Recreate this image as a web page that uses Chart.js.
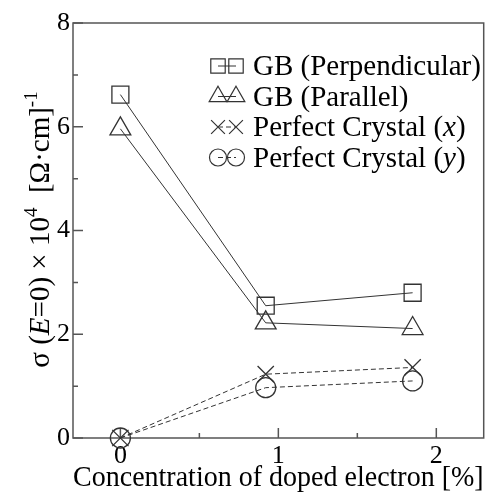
<!DOCTYPE html>
<html>
<head>
<meta charset="utf-8">
<script src="https://cdn.jsdelivr.net/npm/chart.js@4.4.0/dist/chart.umd.min.js"></script>
<style>
  html, body { margin: 0; padding: 0; background: #fff; }
  #wrap { width: 497px; height: 493px; }
</style>
</head>
<body>
<div id="wrap"><canvas id="sigmaChart"></canvas></div>
<script>
// concentration of doped electron [%]
var concentration = [0, 0.92, 1.85];

// sigma(E=0) x 10^4 [Ohm cm]^-1
var gbPerpendicular = [6.62, 2.55, 2.80];
var gbParallel      = [5.96, 2.22, 2.11];
var crystalX        = [0, 1.23, 1.36];
var crystalY        = [0, 0.97, 1.10];

var seriesNames = ['GB (Perpendicular)', 'GB (Parallel)', 'Perfect Crystal (x)', 'Perfect Crystal (y)'];

var xTickValues = [0, 1, 2];
var xMinorTicks = [0.5, 1.5];
var yTickValues = [0, 2, 4, 6, 8];
var yMinorTicks = [1, 3, 5, 7];

var xTitle = 'Concentration of doped electron [%]';

var SERIF = '"Liberation Serif", "Times New Roman", serif';
var INK = '#333';

function points(ys) {
    return concentration.map(function (x, i) { return { x: x, y: ys[i] }; });
}

function series(label, ys, style, radius, dashed) {
    return {
        label: label,
        data: points(ys),
        borderColor: INK,
        borderWidth: 1,
        borderDash: dashed ? [5, 3] : [],
        pointStyle: style,
        pointRadius: radius,
        pointBorderColor: INK,
        pointBackgroundColor: 'rgba(0,0,0,0)',
        pointBorderWidth: 1.3,
        fill: false,
        tension: 0,
        clip: false
    };
}

// frame + inward ticks
var frameTicks = {
    id: 'frameTicks',
    beforeDatasetsDraw: function (chart) {
        var ctx = chart.ctx, a = chart.chartArea;
        var xs = chart.scales.x, ys = chart.scales.y;
        ctx.save();
        ctx.strokeStyle = '#555';
        ctx.lineWidth = 1.5;
        ctx.strokeRect(a.left, a.top, a.right - a.left, a.bottom - a.top);
        ctx.beginPath();
        xTickValues.forEach(function (v) {
            var p = xs.getPixelForValue(v);
            ctx.moveTo(p, a.bottom); ctx.lineTo(p, a.bottom - 10);
        });
        xMinorTicks.forEach(function (v) {
            var p = xs.getPixelForValue(v);
            ctx.moveTo(p, a.bottom); ctx.lineTo(p, a.bottom - 5);
        });
        yTickValues.forEach(function (v) {
            var p = ys.getPixelForValue(v);
            ctx.moveTo(a.left, p); ctx.lineTo(a.left + 10, p);
        });
        yMinorTicks.forEach(function (v) {
            var p = ys.getPixelForValue(v);
            ctx.moveTo(a.left, p); ctx.lineTo(a.left + 5, p);
        });
        ctx.stroke();
        ctx.restore();
    }
};

// legend with marker-line-marker samples
var sampleLegend = {
    id: 'sampleLegend',
    afterDraw: function (chart) {
        var ctx = chart.ctx;
        var x1 = 218, x2 = 236, textX = 253, top = 66, step = 30.5;
        chart.data.datasets.forEach(function (ds, i) {
            var y = top + i * step;
            ctx.save();
            ctx.strokeStyle = INK;
            ctx.lineWidth = 1;
            ctx.setLineDash(ds.borderDash);
            ctx.beginPath();
            ctx.moveTo(x1, y); ctx.lineTo(x2, y);
            ctx.stroke();
            ctx.setLineDash([]);
            ctx.fillStyle = 'rgba(0,0,0,0)';
            ctx.lineWidth = 1.2;
            var opts = { pointStyle: ds.pointStyle, radius: ds.pointRadius * 0.85, rotation: 0, borderWidth: 1.2 };
            Chart.helpers.drawPoint(ctx, opts, x1, y);
            Chart.helpers.drawPoint(ctx, opts, x2, y);

            // text, single letter in parentheses set in italic
            ctx.fillStyle = '#000';
            ctx.textBaseline = 'alphabetic';
            var m = ds.label.match(/^(.*\()(\w)(\))$/);
            var parts = m ? [[m[1], ''], [m[2], 'italic '], [m[3], '']] : [[ds.label, '']];
            var tx = textX;
            parts.forEach(function (p) {
                ctx.font = p[1] + '29px ' + SERIF;
                ctx.fillText(p[0], tx, y + 9);
                tx += ctx.measureText(p[0]).width;
            });
            ctx.restore();
        });
    }
};

// rotated y-axis title with italic E and superscripts
var yTitleParts = [
    ['\u03c3 (', '', 0], ['E', 'italic ', 0], ['=0) \u00d7 10', '', 0], ['4', 'sup', 0],
    ['  [\u03a9\u00b7cm]', '', 0], ['-1', 'sup', 0]
];
var yTitle = {
    id: 'yTitle',
    afterDraw: function (chart) {
        var ctx = chart.ctx, a = chart.chartArea;
        ctx.save();
        function fontOf(p) { return p[1] === 'sup' ? '19px ' + SERIF : p[1] + '29px ' + SERIF; }
        var total = 0;
        yTitleParts.forEach(function (p) { ctx.font = fontOf(p); total += ctx.measureText(p[0]).width; });
        ctx.translate(49, (a.top + a.bottom) / 2 - 1);
        ctx.rotate(-Math.PI / 2);
        ctx.fillStyle = '#000';
        ctx.textBaseline = 'alphabetic';
        var tx = -total / 2;
        yTitleParts.forEach(function (p) {
            ctx.font = fontOf(p);
            ctx.fillText(p[0], tx, p[1] === 'sup' ? -12 : 0);
            tx += ctx.measureText(p[0]).width;
        });
        ctx.restore();
    }
};

var ctx = document.getElementById('sigmaChart');

var sigmaChart = new Chart(ctx, {
    type: 'line',
    data: {
        datasets: [
            series(seriesNames[0], gbPerpendicular, 'rect', 12, false),
            series(seriesNames[1], gbParallel, 'triangle', 12, false),
            series(seriesNames[2], crystalX, 'crossRot', 11.5, true),
            series(seriesNames[3], crystalY, 'circle', 10, true)
        ]
    },
    options: {
        responsive: true,
        maintainAspectRatio: false,
        animation: false,
        layout: { padding: { top: 23, right: 8, left: 0, bottom: 0 } },
        plugins: {
            legend: { display: false },
            tooltip: { enabled: false }
        },
        scales: {
            x: {
                type: 'linear',
                min: -0.3,
                max: 2.3,
                grid: { display: false, drawTicks: false },
                border: { display: false },
                afterBuildTicks: function (s) { s.ticks = xTickValues.map(function (v) { return { value: v }; }); },
                afterFit: function (s) { s.height = 55; },
                ticks: { color: '#000', padding: 3, font: { family: SERIF, size: 26 } },
                title: { display: true, text: xTitle, color: '#000', padding: { top: 0, bottom: -3 }, font: { family: SERIF, size: 28.5 } }
            },
            y: {
                min: 0,
                max: 8,
                grid: { display: false, drawTicks: false },
                border: { display: false },
                afterBuildTicks: function (s) { s.ticks = yTickValues.map(function (v) { return { value: v }; }); },
                afterFit: function (s) { s.width = 73; },
                ticks: { color: '#000', padding: 3, font: { family: SERIF, size: 26 } }
            }
        }
    },
    plugins: [frameTicks, sampleLegend, yTitle]
});
</script>
</body>
</html>
